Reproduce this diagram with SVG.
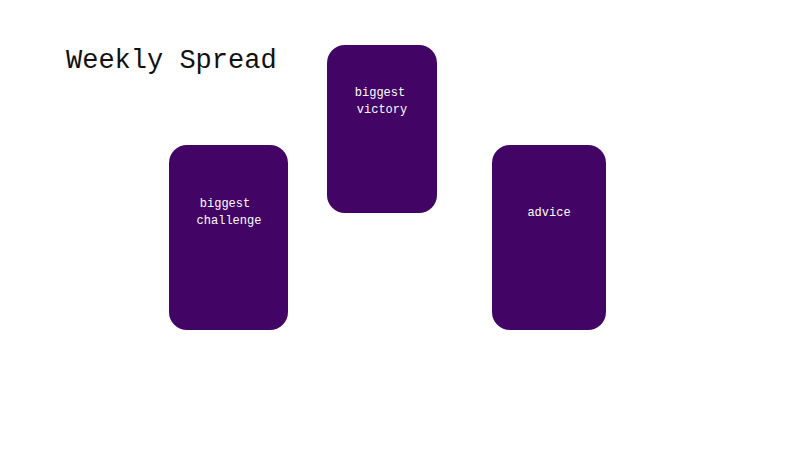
<svg xmlns="http://www.w3.org/2000/svg" width="800" height="450" viewBox="0 0 800 450">
<style>
.card{fill:#420566}
.lbl{font-family:"Liberation Mono","DejaVu Sans Mono",monospace;font-size:12px;fill:#ffffff;text-anchor:middle}
.title{font-family:"Liberation Mono","DejaVu Sans Mono",monospace;font-size:27px;fill:#111}
</style>
<rect width="800" height="450" fill="#fff"/>
<text class="title" x="66" y="68">Weekly Spread</text>
<g id="challenge"><rect class="card" x="169" y="145" width="119" height="185" rx="18"/>
<text class="lbl" x="225" y="207">biggest</text><text class="lbl" x="229" y="224">challenge</text></g>
<g id="victory"><rect class="card" x="327" y="45" width="110" height="168" rx="18"/>
<text class="lbl" x="380" y="96">biggest</text><text class="lbl" x="382" y="113">victory</text></g>
<g id="advice"><rect class="card" x="492" y="145" width="114" height="185" rx="18"/>
<text class="lbl" x="549" y="216">advice</text></g>
<g id="connectors"/>
</svg>
